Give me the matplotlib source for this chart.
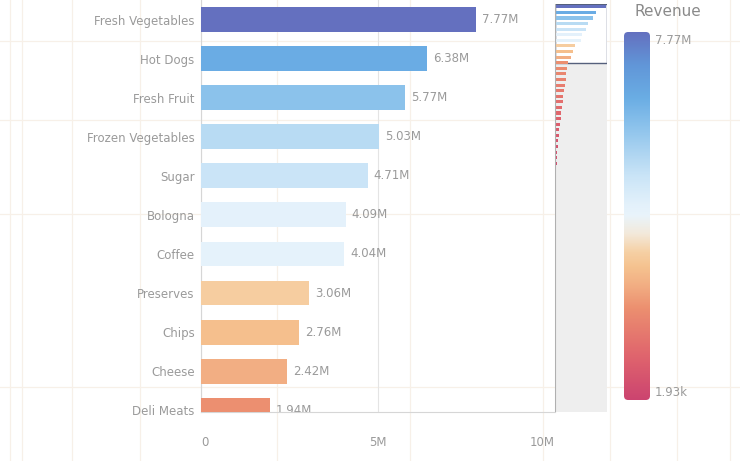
import matplotlib.pyplot as plt
import numpy as np
from matplotlib.colors import LinearSegmentedColormap, Normalize
from matplotlib.patches import Rectangle, FancyBboxPatch
from matplotlib.lines import Line2D

# Revenue per product, top of the sorted list
products = ['Fresh Vegetables', 'Hot Dogs', 'Fresh Fruit', 'Frozen Vegetables', 'Sugar',
            'Bologna', 'Coffee', 'Preserves', 'Chips', 'Cheese', 'Deli Meats']
revenue = [7.77e6, 6.38e6, 5.77e6, 5.03e6, 4.71e6, 4.09e6, 4.04e6, 3.06e6, 2.76e6, 2.42e6, 1.94e6]

# remaining products (only shown in the scroll overview), in millions
other_revenue_m = [1.83, 1.71, 1.62, 1.49, 1.41, 1.30, 1.18, 1.07, 0.98, 0.86, 0.77, 0.69,
                   0.61, 0.52, 0.44, 0.37, 0.31, 0.26, 0.21, 0.17, 0.14, 0.12, 0.10, 0.085,
                   0.072, 0.061, 0.052, 0.045, 0.039, 0.034, 0.030, 0.026, 0.023, 0.020,
                   0.018, 0.016, 0.014, 0.0125, 0.011, 0.0098, 0.0087, 0.0078, 0.0070,
                   0.0063, 0.0057, 0.0051, 0.0046, 0.0042, 0.0038, 0.0034, 0.0031, 0.0028,
                   0.0026, 0.0024, 0.0022, 0.0021, 0.00205, 0.0020, 0.00198, 0.00196,
                   0.00194, 0.00193]

rev_min, rev_max = 1.93e3, 7.77e6
x_ticks = [0, 5e6, 10e6]
x_ticklabels = ['0', '5M', '10M']

W, H = 740, 461
fig = plt.figure(figsize=(W / 100, H / 100), dpi=100)
fig.patch.set_facecolor('white')

def fx(px):
    return px / W

def fy(py):
    return 1 - py / H

# faint layout lines in the background
for px in [10, 22, 72, 140, 277, 410, 543, 610, 677, 730]:
    fig.add_artist(Line2D([fx(px), fx(px)], [0, 1], color='#f7f0e8', lw=0.9, zorder=0))
for py in [41, 120, 214, 387]:
    fig.add_artist(Line2D([0, 1], [fy(py), fy(py)], color='#f7f0e8', lw=0.9, zorder=0))

cmap = LinearSegmentedColormap.from_list('rev', [
    (0.00, '#cc4470'), (0.12, '#e0656d'), (0.25, '#ec9070'), (0.31, '#f2ae83'),
    (0.36, '#f5c28f'), (0.40, '#f6d0a4'), (0.45, '#f3e9da'), (0.50, '#e9f4fb'),
    (0.53, '#e3f1fb'), (0.61, '#c9e4f7'), (0.65, '#b7daf3'), (0.74, '#8dc3ec'),
    (0.82, '#6aade4'), (0.91, '#6196d8'), (1.00, '#6470bf')])
norm = Normalize(rev_min, rev_max)

gray = '#9a9a9a'

# main bar chart
ax = fig.add_axes([fx(201), fy(412), fx(555 - 201), 412 / H])
ax.patch.set_alpha(0)
y = np.arange(len(products))
ax.barh(y, revenue, height=0.64, color=cmap(norm(revenue)), zorder=3)
for yi, v in zip(y, revenue):
    ax.text(v + 0.17e6, yi, f'{v / 1e6:.2f}M', va='center', ha='left',
            fontsize=8.5, color=gray, clip_on=True)
ax.set_xlim(0, 10e6)
ax.set_ylim(10.05, -0.51)
ax.set_yticks(y)
ax.set_yticklabels(products, fontsize=8.5, color=gray)
ax.set_xticks(x_ticks)
ax.set_xticklabels(x_ticklabels, fontsize=8.5, color=gray)
for lab, ha in zip(ax.get_xticklabels(), ['left', 'center', 'right']):
    lab.set_ha(ha)
ax.tick_params(axis='both', length=0)
ax.tick_params(axis='y', pad=4.5)
ax.tick_params(axis='x', pad=17)
ax.grid(axis='x', color='#e4e4e4', lw=0.8, zorder=0)
for s in ['top', 'right']:
    ax.spines[s].set_visible(False)
ax.spines['left'].set_color('#d6d6d6')
ax.spines['bottom'].set_color('#d6d6d6')

# scroll overview on the right
all_rev = revenue + [v * 1e6 for v in other_revenue_m]
mini = fig.add_axes([fx(555), fy(412), fx(52), 408 / H])
mini.set_facecolor('#eeeeee')
mini.add_patch(Rectangle((0, -0.5), 8.0e6, 10.55, facecolor='white',
                         edgecolor='#55607c', lw=1.0, zorder=1))
my = np.arange(len(all_rev))
mini.barh(my, all_rev, height=0.55, color=cmap(norm(all_rev)), zorder=2)
mini.set_xlim(0, 8.0e6)
mini.set_ylim(len(all_rev) - 0.5, -0.5)
mini.set_xticks([])
mini.set_yticks([])
for s in mini.spines.values():
    s.set_visible(False)
mini.axvline(0, color='#b0b0b0', lw=0.8, zorder=3)

# colour legend
cax = fig.add_axes([fx(624), fy(400), fx(26), 368 / H])
grad = np.linspace(1, 0, 256).reshape(-1, 1)
im = cax.imshow(grad, aspect='auto', cmap=cmap, vmin=0, vmax=1, extent=(0, 1, 0, 1))
box = FancyBboxPatch((0, 0), 1, 1, boxstyle='round,pad=0,rounding_size=0.16',
                     mutation_aspect=26 / 368, transform=cax.transAxes,
                     facecolor='none', edgecolor='none')
cax.add_patch(box)
im.set_clip_path(box)
cax.axis('off')

fig.text(fx(668), fy(12), 'Revenue', ha='center', va='center', fontsize=11, color='#8a8a8a')
fig.text(fx(655), fy(40), f'{rev_max / 1e6:.2f}M', ha='left', va='center', fontsize=8.5, color=gray)
fig.text(fx(655), fy(392), f'{rev_min / 1e3:.2f}k', ha='left', va='center', fontsize=8.5, color=gray)

fig.savefig('out.png', dpi=100)
